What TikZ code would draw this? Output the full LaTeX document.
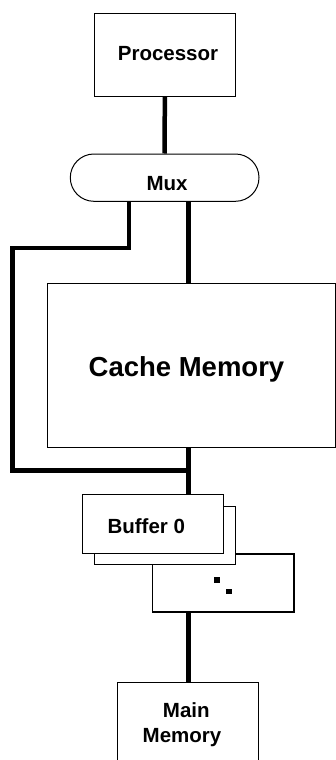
\documentclass[tikz,border=0pt]{standalone}
\usepackage{fontspec}
\setmainfont{Liberation Sans}
\begin{document}
\begin{tikzpicture}[x=1pt,y=-1pt,
  box/.style={draw, line width=1pt, fill=white, inner sep=0pt},
  bus/.style={line width=4.5pt, line join=miter},
  lbl/.style={font=\bfseries\fontsize{20.5}{25}\selectfont, inner sep=0pt, anchor=base},
  dot/.style={fill=black, inner sep=0pt, minimum size=5.5pt}]
\useasboundingbox (0,0) rectangle (336,760);
\clip (0,0) rectangle (336,760);

% blocks
\node[box, minimum width=141pt, minimum height=82.7pt] (proc) at (164.8,54.65) {};
\node[box, rounded corners=23.6pt, minimum width=188.7pt, minimum height=47.3pt] (mux) at (164.65,177.65) {};
\node[box, minimum width=288pt, minimum height=164.7pt] (cache) at (191.3,365.35) {};
\node[box, line width=1.6pt, minimum width=141.7pt, minimum height=57.7pt] (bufn) at (223.15,582.85) {};
\node[box, minimum width=140.7pt, minimum height=58.4pt] (buf1) at (164.65,535.5) {};
\node[box, minimum width=141pt, minimum height=58.3pt] (buf0) at (152.8,523.85) {};
\node[box, minimum width=141.4pt, minimum height=100pt] (main) at (188,732.7) {};

% bus columns and bends
\coordinate (busx) at (188.3,0);
\coordinate (leftx) at (129,0);
\coordinate (bendA) at (12.5,248);
\coordinate (bendB) at (12.5,470.3);

\draw[bus] (proc.south) -- (mux.north);
\draw[bus] (mux.south -| busx) -- (cache.north -| busx);
\draw[bus] (cache.south -| busx) -- (buf0.north -| busx);
\draw[bus] (mux.south -| leftx) |- (bendA) -- (bendB) -- (bendB -| busx);
\draw[bus] (bufn.south -| busx) -- (main.north -| busx);

% ellipsis dots in the last buffer
\node[dot] (dotA) at (217,580) {};
\node[dot] (dotB) at (229,591.5) {};

% labels
\node[lbl] (tproc) at (168,61) {Processor};
\node[lbl] (tmux) at (167,190) {Mux};
\node[lbl, font=\bfseries\fontsize{27.5}{33}\selectfont] (tcache) at (186.5,376) {Cache Memory};
\node[lbl] (tbuf) at (146.3,533) {Buffer 0};
\node[lbl] (tmainA) at (186.3,717) {Main};
\node[lbl] (tmainB) at (182,742) {Memory};
\end{tikzpicture}
\end{document}
